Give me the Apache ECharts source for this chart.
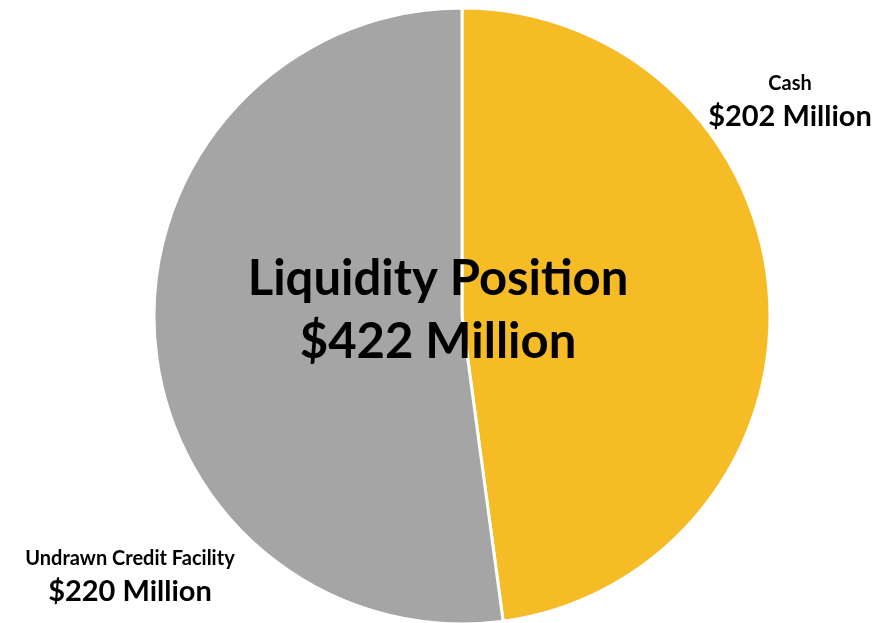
<!DOCTYPE html>
<html>
<head>
<meta charset="utf-8">
<title>Liquidity Position</title>
<script src="https://cdn.jsdelivr.net/npm/echarts@6/dist/echarts.min.js"></script>
<style>
  html, body { margin: 0; padding: 0; background: #fff; }
  #chart { width: 875px; height: 623px; }
</style>
</head>
<body>
<div id="chart"></div>
<script>
// data, in $ millions
var names = ['Cash', 'Undrawn Credit Facility'];
var values = [202, 220];
var colors = ['#F6BC26', '#A5A5A5'];
var labelSpots = [[790, 102], [130, 577]];  // label centres

var total = values.reduce(function (a, b) { return a + b; }, 0);
var font = 'Lato, "Open Sans", sans-serif';

var chart = echarts.init(document.getElementById('chart'));
chart.setOption({
  animation: false,
  graphic: [{
    type: 'text',
    x: 438, y: 311,
    z: 100,
    style: {
      text: 'Liquidity Position\n$' + total + ' Million',
      textAlign: 'center',
      textVerticalAlign: 'middle',
      font: 'bold 49px ' + font,
      lineHeight: 63,
      fill: '#000'
    }
  }],
  series: [{
    type: 'pie',
    center: [462, 316],
    radius: 308,
    startAngle: 90,
    clockwise: true,
    itemStyle: { borderColor: '#fff', borderWidth: 3 },
    labelLine: { show: false },
    label: {
      show: true,
      overflow: 'none',
      formatter: function (p) {
        return '{n|' + p.name + '}\n{v|$' + p.value + ' Million}';
      },
      rich: {
        n: { fontFamily: font, fontWeight: 'bold', fontSize: 20, color: '#000', lineHeight: 30 },
        v: { fontFamily: font, fontWeight: 'bold', fontSize: 29, color: '#000', lineHeight: 36 }
      },
      align: 'center'
    },
    labelLayout: function (p) {
      var s = labelSpots[p.dataIndex];
      return { x: s[0], y: s[1], align: 'center', verticalAlign: 'middle' };
    },
    data: names.map(function (n, i) {
      return { name: n, value: values[i], itemStyle: { color: colors[i] } };
    })
  }]
});
</script>
</body>
</html>
